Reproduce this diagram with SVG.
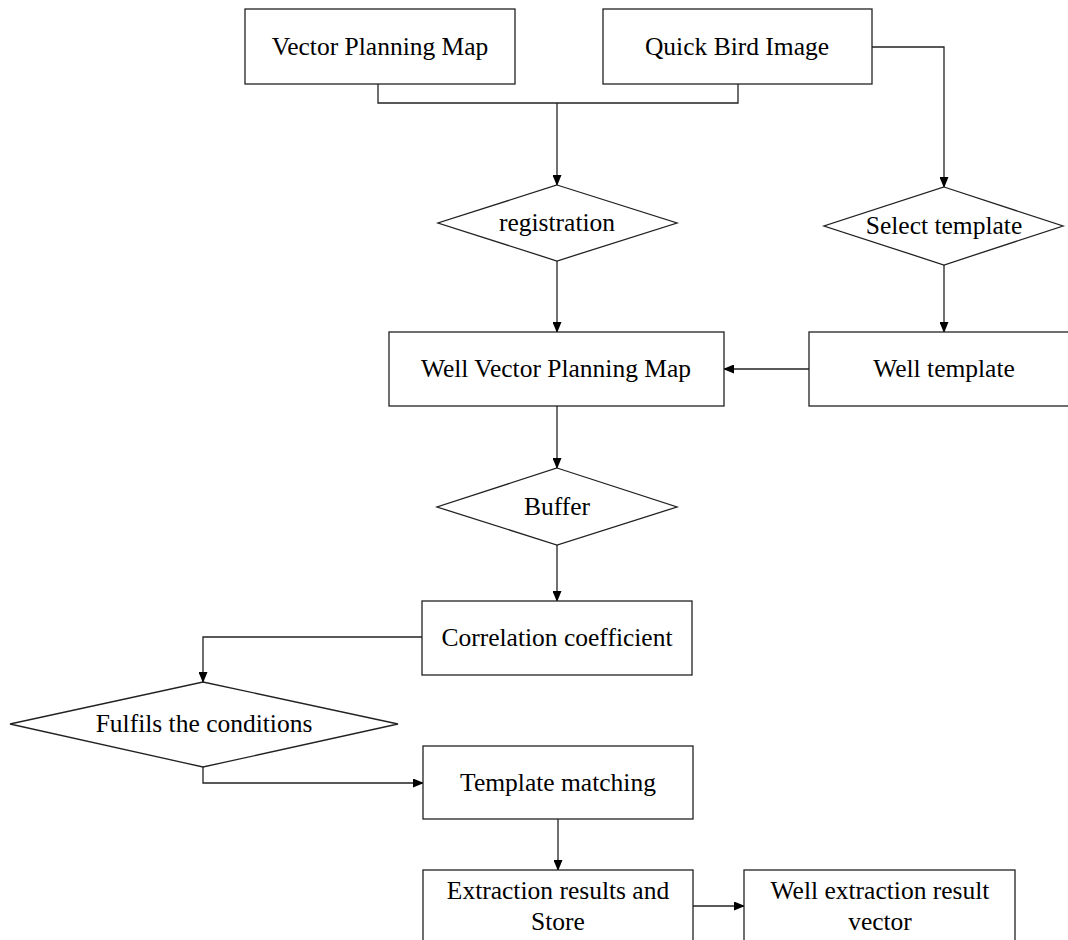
<svg xmlns="http://www.w3.org/2000/svg" width="1068" height="940" viewBox="0 0 1068 940">
<style>
.box{fill:#fff;stroke:#222;stroke-width:1.3}
.t{font-family:"Liberation Serif","Times New Roman",serif;font-size:25.5px;fill:#000;text-anchor:middle}
.c{fill:none;stroke:#222;stroke-width:1.3}
</style>
<defs>
<marker id="ar" markerWidth="11" markerHeight="9" refX="10" refY="4.5" orient="auto" markerUnits="userSpaceOnUse">
<path d="M0,0 L11,4.5 L0,9 Z" fill="#000"/>
</marker>
</defs>
<rect width="1068" height="940" fill="#fff"/>
<g id="connectors">
<polyline class="c" points="378,84 378,103 738,103 738,84"/>
<line class="c" x1="557" y1="103" x2="557" y2="185" marker-end="url(#ar)"/>
<polyline class="c" points="872,47 944,47 944,187" marker-end="url(#ar)"/>
<line class="c" x1="557" y1="261" x2="557" y2="332" marker-end="url(#ar)"/>
<line class="c" x1="944" y1="265" x2="944" y2="332" marker-end="url(#ar)"/>
<line class="c" x1="809" y1="369" x2="724" y2="369" marker-end="url(#ar)"/>
<line class="c" x1="557" y1="406" x2="557" y2="468" marker-end="url(#ar)"/>
<line class="c" x1="557" y1="545" x2="557" y2="601" marker-end="url(#ar)"/>
<polyline class="c" points="422,637 203,637 203,682" marker-end="url(#ar)"/>
<polyline class="c" points="203,767 203,783 423,783" marker-end="url(#ar)"/>
<line class="c" x1="558" y1="819" x2="558" y2="870" marker-end="url(#ar)"/>
<line class="c" x1="693" y1="906" x2="744" y2="906" marker-end="url(#ar)"/>
</g>
<g id="vpm">
<rect class="box" x="245" y="9" width="270" height="75"/>
<text class="t" x="380" y="55">Vector Planning Map</text>
</g>
<g id="qbi">
<rect class="box" x="603" y="9" width="269" height="75"/>
<text class="t" x="737" y="55">Quick Bird Image</text>
</g>
<g id="registration">
<polygon class="box" points="557,185 677,223 557,261 438,223"/>
<text class="t" x="557" y="231">registration</text>
</g>
<g id="select">
<polygon class="box" points="944,187 1063,226 944,265 824,226"/>
<text class="t" x="944" y="234">Select template</text>
</g>
<g id="wvpm">
<rect class="box" x="389" y="332" width="335" height="74"/>
<text class="t" x="556" y="377">Well Vector Planning Map</text>
</g>
<g id="welltemplate">
<rect class="box" x="809" y="332" width="270" height="74"/>
<text class="t" x="944" y="377">Well template</text>
</g>
<g id="buffer">
<polygon class="box" points="557,468 677,507 557,545 437,507"/>
<text class="t" x="557" y="515">Buffer</text>
</g>
<g id="correlation">
<rect class="box" x="422" y="601" width="270" height="74"/>
<text class="t" x="557" y="646">Correlation coefficient</text>
</g>
<g id="fulfils">
<polygon class="box" points="203,682 398,724 203,767 10,724"/>
<text class="t" x="204" y="732">Fulfils the conditions</text>
</g>
<g id="matching">
<rect class="box" x="423" y="746" width="270" height="73"/>
<text class="t" x="558" y="791">Template matching</text>
</g>
<g id="extraction">
<rect class="box" x="423" y="870" width="270" height="80"/>
<text class="t" x="558" y="899">Extraction results and</text>
<text class="t" x="558" y="930">Store</text>
</g>
<g id="result">
<rect class="box" x="744" y="870" width="271" height="80"/>
<text class="t" x="880" y="899">Well extraction result</text>
<text class="t" x="880" y="930">vector</text>
</g>
</svg>
